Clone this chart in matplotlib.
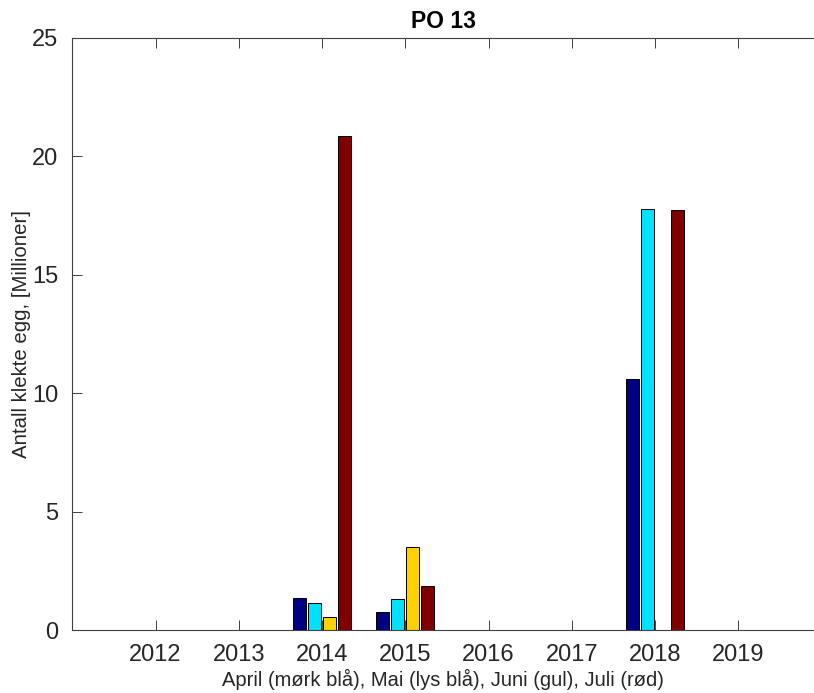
import numpy as np
import matplotlib.pyplot as plt

plt.rcParams['font.family'] = ['Liberation Sans', 'DejaVu Sans']

# data (millioner klekte egg)
years = [2012, 2013, 2014, 2015, 2016, 2017, 2018, 2019]
april = [0, 0, 1.36, 0.76, 0, 0, 10.6, 0]
mai = [0, 0, 1.14, 1.34, 0, 0, 17.77, 0]
juni = [0, 0, 0.55, 3.53, 0, 0, 0, 0]
juli = [0, 0, 20.87, 1.89, 0, 0, 17.72, 0]

series = [april, mai, juni, juli]
colors = ['#000080', '#00E1FF', '#FFD100', '#800000']

fig = plt.figure(figsize=(8.14, 6.93), dpi=100)
# plot goes up to the right edge of the picture (original is cropped there)
ax = fig.add_axes([72.3/814, (693-630.3)/693, 1 - 72.3/814, (630.3-38)/693])

x = np.array(years)
step = 0.18
w = 0.155
for i, (vals, c) in enumerate(zip(series, colors)):
    ax.bar(x + (i - 1.5)*step, vals, width=w, color=c, edgecolor='black', linewidth=0.7)

ax.set_xlim(2011, 2019.91)
ax.set_ylim(0, 25)
ax.set_xticks(years)
ax.set_xticklabels([str(y) for y in years])
ax.set_yticks([0, 5, 10, 15, 20, 25])

for s in ax.spines.values():
    s.set_color('#404040')
    s.set_linewidth(0.8)
ax.spines['right'].set_visible(False)
ax.tick_params(direction='in', length=7, width=0.7, color='#404040',
               labelsize=17, labelcolor='#262626', top=True, right=False, pad=10)

ax.set_title('PO 13', fontsize=16.5, fontweight='bold', pad=7)
ax.set_ylabel('Antall klekte egg, [Millioner]', fontsize=14.7, color='#262626', labelpad=1)
ax.set_xlabel('April (mørk blå), Mai (lys blå), Juni (gul), Juli (rød)', fontsize=14.5,
              color='#262626', labelpad=2)

fig.savefig('out.png', dpi=100)
